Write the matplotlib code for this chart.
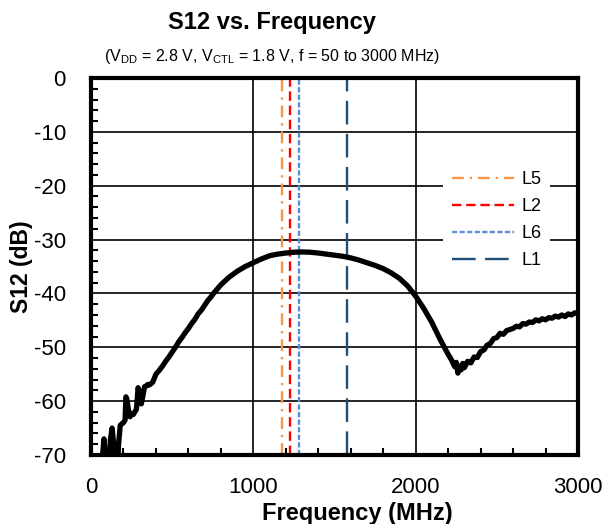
import matplotlib
matplotlib.use("Agg")
import matplotlib.pyplot as plt
from matplotlib.ticker import MultipleLocator

plt.rcParams['font.family'] = ['Liberation Sans', 'DejaVu Sans']
plt.rcParams['axes.unicode_minus'] = False

freq_mhz = [50, 60, 70, 80, 90, 100, 110, 120, 130, 140, 150, 160, 170, 180, 190, 200,
            210, 215, 220, 230, 240, 250, 260, 270, 280, 290, 295, 300, 310, 320, 330,
            340, 350, 360, 380, 400, 420, 440, 460, 480, 500, 520, 540, 560, 580, 600,
            620, 640, 660, 680, 700, 720, 740, 760, 780, 800, 850, 900, 950, 1000, 1050,
            1100, 1150, 1200, 1250, 1300, 1350, 1400, 1450, 1500, 1550, 1600, 1650, 1700,
            1750, 1800, 1850, 1900, 1950, 2000, 2050, 2100, 2150, 2200, 2220, 2240, 2250,
            2260, 2270, 2280, 2290, 2300, 2320, 2340, 2360, 2380, 2400, 2420, 2440, 2460,
            2480, 2500, 2520, 2540, 2560, 2580, 2600, 2620, 2640, 2660, 2680, 2700, 2720,
            2740, 2760, 2780, 2800, 2820, 2840, 2860, 2880, 2900, 2920, 2940, 2960, 2980, 3000]
s12_db = [-72, -74, -70.5, -67, -71, -75, -72, -67, -65, -68, -73, -75, -68, -64.5, -64.2, -64,
          -63.5, -59.2, -59.5, -61.5, -62.9, -62.3, -62.5, -62, -61.5, -57.5, -58, -59.5, -60.5, -59, -57.3,
          -57.2, -56.9, -57, -56.5, -55.0, -54.3, -53.5, -52.6, -51.8, -50.9, -50.0, -49.0, -48.2, -47.3, -46.5,
          -45.6, -44.8, -43.8, -43.1, -42.2, -41.3, -40.6, -39.8, -39.1, -38.4, -37.0, -35.9, -35.0, -34.3, -33.6,
          -33.0, -32.7, -32.5, -32.35, -32.3, -32.35, -32.5, -32.7, -32.9, -33.1, -33.4, -33.8, -34.3,
          -34.8, -35.4, -36.2, -37.2, -38.6, -40.5, -42.8, -45.4, -48.5, -51.3, -52.3, -53.6, -52.8,
          -54.8, -53.5, -54.2, -53.0, -53.8, -52.6, -52.9, -51.8, -51.9, -50.8, -50.5, -49.6, -49.3,
          -48.4, -48.2, -47.4, -47.6, -46.9, -46.7, -46.5, -46.1, -46.2, -45.6, -45.7, -45.3, -45.4,
          -44.9, -45.1, -44.7, -44.9, -44.5, -44.6, -44.2, -44.4, -44.0, -44.3, -43.8, -44.0, -43.6, -43.8]

band_names = ['L5', 'L2', 'L6', 'L1']
band_freqs = [1176.45, 1227.6, 1278.75, 1575.42]
band_colors = ['#F79646', '#FF0000', '#5B8FCF', '#1F4E79']
band_dashes = [(5, 2.5, 1, 2.5), (4, 2), (2.2, 1), (10, 4)]

x_ticks = [0, 1000, 2000, 3000]
y_ticks = [0, -10, -20, -30, -40, -50, -60, -70]

fig = plt.figure(figsize=(6.14, 5.24), dpi=100)
ax = fig.add_axes([91/614, 1 - 455/524, 487/614, 377/524])

for name, f, c, d in zip(band_names, band_freqs, band_colors, band_dashes):
    ax.axvline(f, color=c, lw=1.7, dashes=d, label=name, zorder=3)

ax.plot(freq_mhz, s12_db, color='black', lw=3.8, zorder=4, solid_joinstyle='round')

ax.set_xlim(0, 3000)
ax.set_ylim(-70, 0)
ax.set_xticks(x_ticks)
ax.set_yticks(y_ticks)
ax.xaxis.set_minor_locator(MultipleLocator(200))
ax.yaxis.set_minor_locator(MultipleLocator(2))
ax.grid(True, which='major', color='black', lw=1.2)
ax.set_axisbelow(True)
ax.tick_params(which='major', length=0, labelsize=16)
ax.tick_params(axis='y', which='major', pad=18)
ax.tick_params(axis='x', which='major', pad=16)
ax.tick_params(which='minor', direction='in', length=5, width=1.5, color='black')
ax.tick_params(axis='x', which='minor', top=False)
ax.tick_params(axis='y', which='minor', right=False)
for sp in ax.spines.values():
    sp.set_linewidth(3)
    sp.set_color('black')
    sp.set_zorder(6)

ax.set_xlabel('Frequency (MHz)', fontsize=17, fontweight='bold')
ax.xaxis.set_label_coords(0.546, -0.125)
ax.set_ylabel('S12 (dB)', fontsize=16.5, fontweight='bold')
ax.yaxis.set_label_coords(-0.12, 0.5)

leg = ax.legend(loc='upper left', bbox_to_anchor=(0.705, 0.80), fontsize=13,
                frameon=True, framealpha=1, edgecolor='none', facecolor='white',
                handlelength=3.4, handletextpad=0.4, labelspacing=0.55, borderpad=0.5,
                fancybox=False)
leg.set_zorder(5)

fig.text(0.443, 1 - 22/524, 'S12 vs. Frequency', fontsize=17, fontweight='bold',
         ha='center', va='center')
fig.text(0.443, 1 - 57/524,
         r'(V$_\mathregular{DD}$ = 2.8 V, V$_\mathregular{CTL}$ = 1.8 V, f = 50 to 3000 MHz)',
         fontsize=11.5, ha='center', va='center')

fig.savefig('out.png', dpi=100)
